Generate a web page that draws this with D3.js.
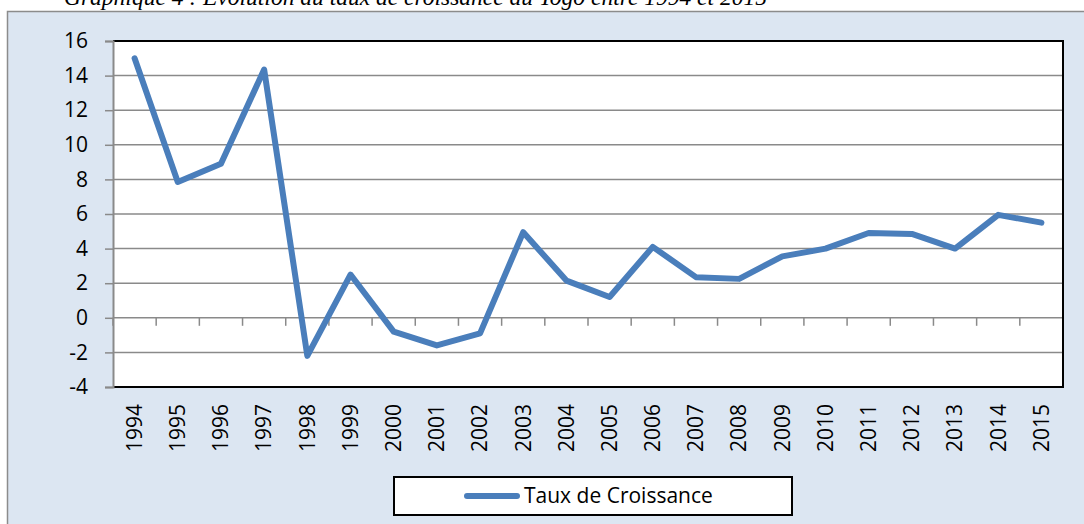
<!DOCTYPE html>
<html>
<head>
<meta charset="utf-8">
<script src="https://cdn.jsdelivr.net/npm/d3@7"></script>
<style>
  body { margin: 0; background: #fff; }
  svg { display: block; }
  .tick-label { font-family: "Open Sans", sans-serif; font-size: 21px; fill: #000; }
</style>
</head>
<body>
<svg id="chart" width="1084" height="524"></svg>
<script>
"use strict";

//Chart values
var years = ["1994","1995","1996","1997","1998","1999","2000","2001","2002","2003","2004",
  "2005","2006","2007","2008","2009","2010","2011","2012","2013","2014","2015"];
var growthRates = [15.0, 7.85, 8.9, 14.35, -2.2, 2.5, -0.8, -1.6, -0.9, 4.95, 2.15,
  1.2, 4.1, 2.35, 2.25, 3.55, 4.0, 4.9, 4.85, 4.0, 5.95, 5.5];
var yTicks = [-4, -2, 0, 2, 4, 6, 8, 10, 12, 14, 16];
var seriesName = "Taux de Croissance";
var titleText = "Graphique 4 : Evolution du taux de croissance du Togo entre 1994 et 2015";

var svg = d3.select("#chart");

//Plot area box
var plot = {left: 113, top: 41, right: 1063, bottom: 387};

//Title (cut by the top of the picture, as in the source)
svg.append("text")
  .attr("x", 64)
  .attr("y", 5)
  .style("font-family", "'Liberation Serif', serif")
  .style("font-style", "italic")
  .style("font-size", "23.5px")
  .attr("fill", "#000")
  .text(titleText);

//Chart area background
svg.append("rect")
  .attr("x", 7.5).attr("y", 11.5)
  .attr("width", 1100).attr("height", 600)
  .attr("fill", "#dce6f2")
  .attr("stroke", "#8c8c8c")
  .attr("stroke-width", 1.5);

//Plot area background
svg.append("rect")
  .attr("x", plot.left).attr("y", plot.top)
  .attr("width", plot.right - plot.left).attr("height", plot.bottom - plot.top)
  .attr("fill", "#fff");

//Scales
var x = d3.scaleBand().domain(years).range([plot.left, plot.right]);
var y = d3.scaleLinear().domain([-4, 16]).range([plot.bottom, plot.top]);

var g = svg.append("g");

//Horizontal gridlines
g.selectAll(".grid")
  .data(yTicks.filter(function(d) { return d > -4 && d < 16; }))
  .enter().append("line")
  .attr("class", "grid")
  .attr("x1", plot.left).attr("x2", plot.right)
  .attr("y1", function(d) { return y(d); })
  .attr("y2", function(d) { return y(d); })
  .attr("stroke", "#8a8a8a")
  .attr("stroke-width", 1.5);

//Category ticks on the zero line
var bounds = years.map(function(d) { return x(d); }).concat([plot.right]);
g.selectAll(".xtick")
  .data(bounds)
  .enter().append("line")
  .attr("class", "xtick")
  .attr("x1", function(d) { return d; }).attr("x2", function(d) { return d; })
  .attr("y1", y(0)).attr("y2", y(0) + 8)
  .attr("stroke", "#8a8a8a")
  .attr("stroke-width", 1.5);

//Plot area border (top, right, bottom in black)
g.append("path")
  .attr("d", "M" + plot.left + "," + plot.top + "H" + plot.right + "V" + plot.bottom + "H" + plot.left)
  .attr("fill", "none")
  .attr("stroke", "#000")
  .attr("stroke-width", 2);

//Y axis, plain hyphen for negatives like the source
var yAxis = svg.append("g")
  .attr("transform", "translate(" + plot.left + ",0)")
  .call(d3.axisLeft(y).tickValues(yTicks).tickSize(8).tickPadding(17)
    .tickFormat(function(d) { return String(d); }));
yAxis.select(".domain").attr("stroke", "#8a8a8a").attr("stroke-width", 2);
yAxis.selectAll(".tick line").attr("stroke", "#8a8a8a").attr("stroke-width", 1.5);
yAxis.selectAll(".tick text")
  .attr("class", "tick-label")
  .attr("fill", "#000")
  .attr("font-family", null).attr("font-size", null);

//X labels, rotated
svg.selectAll(".xlabel")
  .data(years)
  .enter().append("text")
  .attr("class", "tick-label")
  .attr("text-anchor", "end")
  .attr("dy", "0.35em")
  .attr("transform", function(d) {
    return "translate(" + (x(d) + x.bandwidth() / 2) + ",404) rotate(-90)";
  })
  .text(function(d) { return d; });

//Series line
var line = d3.line()
  .x(function(d, i) { return x(years[i]) + x.bandwidth() / 2; })
  .y(function(d) { return y(d); });

svg.append("path")
  .datum(growthRates)
  .attr("d", line)
  .attr("fill", "none")
  .attr("stroke", "#4a7ebb")
  .attr("stroke-width", 6)
  .attr("stroke-linejoin", "round")
  .attr("stroke-linecap", "round");

//Legend
var legend = svg.append("g");
legend.append("rect")
  .attr("x", 394).attr("y", 477)
  .attr("width", 398).attr("height", 38)
  .attr("fill", "#fff")
  .attr("stroke", "#000")
  .attr("stroke-width", 2);
legend.append("line")
  .attr("x1", 467).attr("x2", 517)
  .attr("y1", 496).attr("y2", 496)
  .attr("stroke", "#4a7ebb")
  .attr("stroke-width", 6)
  .attr("stroke-linecap", "round");
legend.append("text")
  .attr("class", "tick-label")
  .attr("x", 524)
  .attr("y", 496)
  .attr("dy", "0.35em")
  .text(seriesName);
</script>
</body>
</html>
